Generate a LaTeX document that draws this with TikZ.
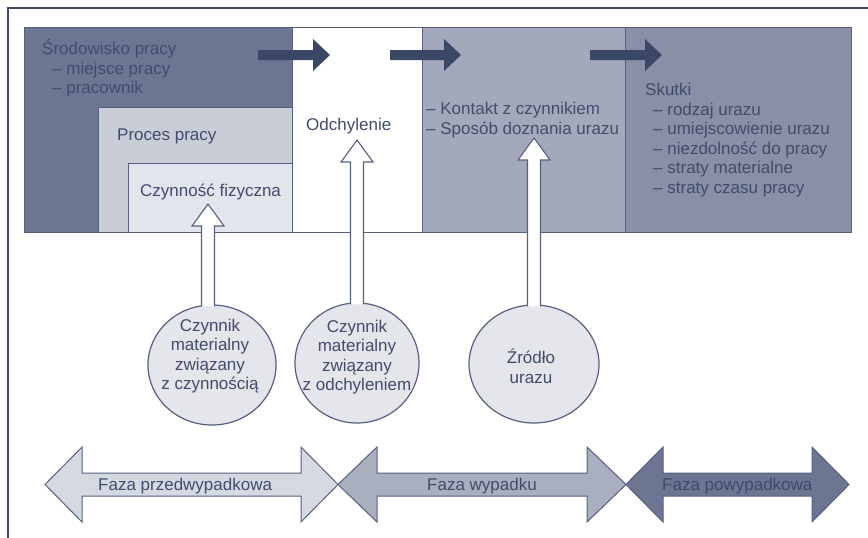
\documentclass[tikz,border=0pt]{standalone}
\usepackage{fontspec}
\setmainfont{Liberation Sans}
\usetikzlibrary{calc,shapes.geometric}
\definecolor{frm}{HTML}{3E4A68}
\definecolor{txt}{HTML}{414C6B}
\definecolor{bord}{HTML}{56617F}
\definecolor{envc}{HTML}{6C7592}
\definecolor{procc}{HTML}{C9CDD8}
\definecolor{czync}{HTML}{E3E5EC}
\definecolor{kontc}{HTML}{A3A9BA}
\definecolor{skutc}{HTML}{8990A6}
\definecolor{dk}{HTML}{3B4767}
\definecolor{circc}{HTML}{E4E6EC}
\definecolor{fazaA}{HTML}{D5D9E2}
\definecolor{fazaB}{HTML}{A9AFBF}
\definecolor{fazaC}{HTML}{6C7693}
\tikzset{
  region/.style={draw=bord, line width=0.8pt, anchor=north west, inner sep=0pt},
  lbl/.style={anchor=base west},
  circ/.style={ellipse, draw=bord, line width=1.2pt, fill=circc},
  wline/.style={draw=bord, line width=1.1pt, line join=miter},
  faza/.style={draw=bord, line width=1pt, line join=miter}
}
\newcommand\darr[2]{\fill[dk] ($(#1)+(0,-5)$) -- ($(#2)+(-17,-5)$) -- ($(#2)+(-17,-16)$) -- (#2) -- ($(#2)+(-17,16)$) -- ($(#2)+(-17,5)$) -- ($(#1)+(0,5)$) -- cycle;}
\newcommand\uparr[2]{%
  \fill[white] ($(#1|-#2.north)+(-6.5,2)$) -- ($(#1)+(-6.5,22)$) -- ($(#1)+(-16,22)$) -- (#1) -- ($(#1)+(16,22)$) -- ($(#1)+(6.5,22)$) -- ($(#1|-#2.north)+(6.5,2)$) -- cycle;
  \draw[wline] ($(#1|-#2.north)+(-6.5,2)$) -- ($(#1)+(-6.5,22)$) -- ($(#1)+(-16,22)$) -- (#1) -- ($(#1)+(16,22)$) -- ($(#1)+(6.5,22)$) -- ($(#1|-#2.north)+(6.5,2)$);}
\newcommand\dblarr[4]{%
  \draw[faza, fill=#4] (#1) -- ($(#1)+(#3,-37.5)$) -- ($(#1)+(#3,-11.5)$) -- ($(#2)+(-#3,-11.5)$) -- ($(#2)+(-#3,-37.5)$) -- (#2) -- ($(#2)+(-#3,37.5)$) -- ($(#2)+(-#3,11.5)$) -- ($(#1)+(#3,11.5)$) -- ($(#1)+(#3,37.5)$) -- cycle;}
\begin{document}
\begin{tikzpicture}[x=1pt,y=-1pt, every node/.style={font=\fontsize{17}{19.5}\selectfont, text=txt, inner sep=0pt}]
\useasboundingbox (0,0) rectangle (868,538);
\fill[white] (0,0) rectangle (868,538);
\draw[frm, line width=2pt] (8,538) -- (8,8) -- (868,8);

% top band regions
\node[region, fill=envc, minimum width=268, minimum height=205] (env) at (24,27) {};
\node[region, fill=procc, minimum width=194, minimum height=125] (proc) at (98,107) {};
\node[region, fill=czync, minimum width=164, minimum height=69] (czyn) at (128,163) {};
\node[region, fill=white, minimum width=130, minimum height=205] (odch) at (292,27) {};
\node[region, fill=kontc, minimum width=203, minimum height=205] (kont) at (422,27) {};
\node[region, fill=skutc, minimum width=226, minimum height=205] (skut) at (625,27) {};

% texts in band
\node[lbl] (tenv) at (42,54) {Środowisko pracy};
\node[lbl] at (52,74) {– miejsce pracy};
\node[lbl] at (52,93) {– pracownik};
\node[lbl] (tproc) at (117,140) {Proces pracy};
\node[lbl] (tczyn) at (140,196) {Czynność fizyczna};
\node[lbl] (todch) at (306,130) {Odchylenie};
\node[lbl] (tkont) at (426,114) {– Kontakt z czynnikiem};
\node[lbl] at (426,134) {– Sposób doznania urazu};
\node[lbl] (tskut) at (645,95) {Skutki};
\node[lbl] at (653,115) {– rodzaj urazu};
\node[lbl] at (653,134.5) {– umiejscowienie urazu};
\node[lbl] at (653,154) {– niezdolność do pracy};
\node[lbl] at (653,173.5) {– straty materialne};
\node[lbl] at (653,193) {– straty czasu pracy};

% dark flow arrows
\coordinate (a1s) at (258,55); \coordinate (a1t) at (330,55);
\coordinate (a2s) at (390,55); \coordinate (a2t) at (461,55);
\coordinate (a3s) at (590,55); \coordinate (a3t) at (662,55);
\darr{a1s}{a1t}
\darr{a2s}{a2t}
\darr{a3s}{a3t}

% circles
\node[circ, minimum width=128, minimum height=120] (c1) at (212,365) {};
\node[circ, minimum width=124, minimum height=120] (c2) at (357,363) {};
\node[circ, minimum width=130, minimum height=118] (c3) at (534,364) {};

% white up arrows
\coordinate (t1) at (208,204);
\coordinate (t2) at (357,140);
\coordinate (t3) at (534,138);
\uparr{t1}{c1}
\uparr{t2}{c2}
\uparr{t3}{c3}

% circle texts
\node[align=center] (l1) at (210,356) {Czynnik\\materialny\\związany\\z czynnością};
\node[align=center] (l2) at (357,357) {Czynnik\\materialny\\związany\\z odchyleniem};
\node[align=center] (l3) at (531,366) {Źródło\\urazu};

% phase arrows
\coordinate (pA) at (45,484.5);
\coordinate (pB) at (338,484.5);
\coordinate (pC) at (626,484.5);
\coordinate (pD) at (849,484.5);
\dblarr{pA}{pB}{37}{fazaA}
\dblarr{pB}{pC}{39}{fazaB}
\dblarr{pC}{pD}{37}{fazaC}
\node[lbl] (fA) at (98,490) {Faza przedwypadkowa};
\node[lbl] (fB) at (427,490) {Faza wypadku};
\node[lbl, text=frm] (fC) at (662,490) {Faza powypadkowa};
\end{tikzpicture}
\end{document}
